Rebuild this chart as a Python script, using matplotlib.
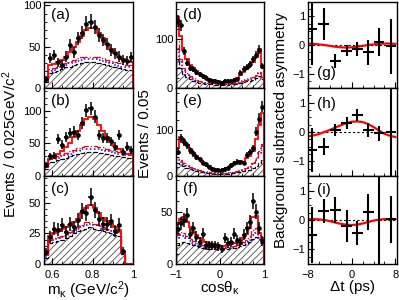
import matplotlib
matplotlib.use("Agg")
import matplotlib.pyplot as plt
import numpy as np
from matplotlib.ticker import MultipleLocator, FormatStrFormatter

plt.rcParams["font.family"] = ["Liberation Sans", "DejaVu Sans"]
plt.rcParams["mathtext.fontset"] = "custom"
plt.rcParams["mathtext.rm"] = "Liberation Sans"
plt.rcParams["mathtext.it"] = "Liberation Sans:italic"
plt.rcParams["hatch.linewidth"] = 0.6

# ---- m(K pi) column: 22 bins from 0.56 to 1.00
mass_edges = np.linspace(0.56, 1.0, 23)

a_data = [11, 36, 40, 31, 28, 38, 52, 43, 60, 67, 78, 80, 74, 64, 58, 53, 46, 42, 38, 34, 33, 37]
a_total = [10, 28, 29, 31, 34, 38, 43, 49, 56, 63, 70, 73, 72, 67, 60, 53, 47, 42, 38, 35, 33, 32]
a_sig2 = [9, 23, 24, 26, 28, 30, 32, 34, 36, 37, 38, 38, 38, 37, 36, 34, 33, 31, 30, 29, 28, 28]
a_sig1 = [8, 21, 22, 24, 26, 28, 30, 31, 33, 34, 35, 35, 35, 34, 33, 31, 30, 28, 27, 26, 25, 25]
a_bkg = [7, 18, 19, 21, 23, 25, 26, 28, 29, 30, 31, 31, 31, 30, 29, 28, 27, 25, 24, 23, 22, 22]

b_data = [17, 30, 31, 57, 48, 60, 66, 68, 63, 81, 101, 104, 91, 63, 58, 58, 53, 45, 63, 37, 45, 40]
b_total = [15, 26, 29, 33, 38, 44, 51, 60, 69, 79, 87, 90, 87, 79, 69, 60, 52, 46, 41, 37, 34, 32]
b_sig2 = [14, 27, 28, 30, 32, 35, 38, 40, 43, 45, 46, 46, 46, 45, 44, 42, 40, 39, 37, 36, 35, 35]
b_sig1 = [13, 25, 26, 28, 30, 32, 34, 37, 39, 41, 42, 42, 42, 41, 40, 38, 37, 35, 34, 33, 32, 32]
b_bkg = [11, 21, 22, 24, 26, 28, 30, 32, 34, 36, 37, 37, 37, 36, 35, 34, 32, 31, 30, 29, 28, 28]

c_data = [10, 22, 29, 28, 32, 26, 33, 30, 36, 43, 42, 55, 44, 37, 33, 33, 35, 27, 32, 11, 0, 0]
c_total = [8, 23, 25, 27, 29, 30, 32, 34, 37, 42, 46, 48, 46, 42, 38, 35, 33, 30, 28, 10, 0, 0]
c_sig2 = [7, 20, 21, 22, 23, 24, 26, 28, 30, 32, 34, 34, 33, 32, 30, 29, 28, 27, 26, 9, 0, 0]
c_sig1 = [6, 19, 20, 21, 22, 23, 25, 27, 29, 31, 32, 33, 32, 31, 29, 28, 27, 26, 25, 9, 0, 0]
c_bkg = [5, 17, 18, 19, 20, 21, 23, 25, 27, 28, 29, 30, 29, 28, 27, 26, 25, 24, 23, 8, 0, 0]

# ---- cos(theta) column: 28 bins from -1 to 1
cos_edges = np.linspace(-1.0, 1.0, 29)

d_data = [136, 128, 75, 51, 41, 38, 33, 28, 24, 21, 16, 14, 14, 13, 11, 15, 15, 15, 16, 19, 31, 38, 43, 48, 58, 68, 78, 45]
d_total = [145, 105, 78, 58, 47, 40, 34, 29, 25, 22, 19, 17, 15, 14, 13, 13, 14, 15, 17, 20, 26, 33, 39, 45, 53, 63, 80, 42]
d_sig2 = [95, 60, 40, 30, 24, 20, 17, 15, 13, 12, 11, 10, 9, 9, 9, 9, 9, 10, 10, 11, 13, 15, 17, 19, 22, 26, 32, 22]
d_sig1 = [80, 52, 36, 27, 22, 18, 15, 13, 12, 11, 10, 9, 8, 8, 8, 8, 8, 9, 9, 10, 12, 14, 16, 18, 21, 24, 30, 20]
d_bkg = [58, 40, 28, 22, 18, 15, 13, 11, 10, 9, 8, 8, 7, 7, 7, 7, 7, 8, 8, 9, 10, 12, 14, 15, 17, 20, 24, 18]

e_data = [52, 81, 73, 66, 56, 49, 41, 36, 29, 25, 20, 16, 13, 13, 13, 15, 18, 23, 28, 31, 30, 28, 45, 52, 60, 96, 124, 150]
e_total = [60, 85, 78, 68, 58, 50, 43, 37, 31, 26, 22, 18, 15, 14, 14, 15, 17, 21, 26, 30, 32, 30, 38, 44, 55, 80, 110, 135]
e_sig2 = [40, 34, 28, 24, 20, 17, 14, 12, 10, 9, 8, 7, 6, 6, 6, 6, 7, 8, 9, 10, 12, 14, 17, 21, 27, 38, 55, 70]
e_sig1 = [36, 31, 25, 21, 18, 15, 13, 11, 9, 8, 7, 6, 5, 5, 5, 5, 6, 7, 8, 9, 11, 13, 16, 19, 25, 35, 50, 65]
e_bkg = [28, 25, 21, 18, 15, 13, 11, 9, 8, 7, 6, 5, 5, 4, 4, 5, 5, 6, 7, 8, 9, 10, 12, 14, 17, 22, 28, 35]

f_data = [33, 39, 42, 47, 29, 34, 26, 21, 29, 18, 18, 18, 18, 17, 14, 25, 20, 21, 29, 23, 21, 28, 34, 40, 60, 50, 34, 22]
f_total = [38, 43, 45, 40, 35, 31, 28, 25, 23, 21, 20, 19, 18, 18, 17, 17, 18, 19, 20, 21, 23, 25, 29, 34, 45, 46, 30, 25]
f_sig2 = [28, 31, 30, 27, 24, 22, 20, 19, 18, 17, 16, 16, 15, 15, 15, 15, 16, 16, 17, 18, 19, 21, 23, 26, 32, 34, 28, 22]
f_sig1 = [25, 28, 27, 25, 22, 20, 19, 18, 17, 16, 15, 15, 15, 14, 14, 14, 15, 15, 16, 17, 18, 19, 21, 23, 28, 30, 25, 20]
f_bkg = [18, 20, 21, 20, 19, 18, 17, 16, 15, 15, 14, 14, 14, 14, 14, 14, 14, 15, 15, 16, 17, 18, 19, 21, 24, 26, 24, 20]

# ---- delta t column
g_dt = [-7.2, -5.1, -3.0, -0.9, 1.0, 3.0, 5.0, 7.2]
g_asym = [0.55, 0.73, -0.55, -0.2, -0.13, -0.26, 0.1, -0.05]
g_err = [1.25, 0.55, 0.25, 0.2, 0.25, 0.45, 0.5, 0.95]

h_dt = [-7.2, -5.1, -3.0, -0.9, 1.0, 3.0, 5.0, 7.2]
h_asym = [-0.6, -0.5, 0.07, 0.3, 0.58, 0.07, -0.05, 0.0]
h_err = [0.75, 0.3, 0.2, 0.2, 0.2, 0.25, 0.25, 1.6]

i_dt = [-7.2, -5.1, -3.0, -0.9, 1.0, 3.0, 5.0, 7.2]
i_asym = [-0.51, 0.31, 0.35, -0.2, -0.45, 0.27, 2.0, 0.03]
i_err = [0.95, 0.4, 0.45, 0.55, 0.4, 0.6, 4.0, 0.8]

dt_err = [0.9, 1.0, 1.0, 1.0, 1.0, 1.0, 1.0, 0.9]

fit_t = np.arange(-8, 9)
g_fit = [0.05, 0.04, 0.02, 0.0, -0.03, -0.06, -0.08, -0.09, -0.08, -0.06, -0.03, 0.0, 0.02, 0.04, 0.05, 0.05, 0.04]
h_fit = [-0.15, -0.12, -0.07, 0.0, 0.07, 0.15, 0.23, 0.3, 0.35, 0.36, 0.34, 0.27, 0.17, 0.05, -0.06, -0.13, -0.17]
i_fit = [0.03, 0.03, 0.02, 0.0, -0.04, -0.09, -0.13, -0.16, -0.17, -0.16, -0.12, -0.07, -0.02, 0.01, 0.03, 0.03, 0.03]


def style_axis(ax):
    ax.tick_params(which="both", direction="in", top=False, right=False, labelsize=8, pad=2)
    ax.tick_params(axis="x", which="both", pad=4)
    ax.tick_params(which="major", length=4, width=0.8)
    ax.tick_params(which="minor", length=2, width=0.6)
    for s in ax.spines.values():
        s.set_linewidth(1.0)


def hist_panel(ax, edges, data, total, sig2, sig1, bkg, ymax, label):
    data = np.array(data, dtype=float)
    centers = 0.5 * (edges[1:] + edges[:-1])
    half = 0.5 * (edges[1] - edges[0])
    ax.fill_between(edges, np.r_[bkg, bkg[-1]], step="post", facecolor="none",
                    edgecolor="0.3", hatch="/////", linewidth=0)
    ax.stairs(bkg, edges, color="k", linestyle="--", linewidth=0.9)
    ax.stairs(sig1, edges, color="blue", linestyle=":", linewidth=1.1)
    ax.stairs(sig2, edges, color="red", linestyle="-.", linewidth=0.9)
    ax.stairs(total, edges, color="red", linewidth=1.3)
    m = data > 0
    ax.errorbar(centers[m], data[m], yerr=np.sqrt(data[m]), xerr=half, fmt="o",
                ms=2.3, color="k", elinewidth=1.1, capsize=0)
    ax.set_xlim(edges[0], edges[-1])
    ax.set_ylim(0, ymax)
    ax.text(0.08, 0.85, label, transform=ax.transAxes, fontsize=11, va="center")
    style_axis(ax)


def asym_panel(ax, dt, asym, err, fit, label, ly):
    ax.axhline(0, color="k", linestyle=(0, (2, 2)), linewidth=0.8)
    ax.plot(fit_t, fit, color="red", linewidth=1.6)
    ax.errorbar(dt, asym, yerr=err, xerr=dt_err, fmt="none", color="k",
                elinewidth=1.5, capsize=0)
    ax.set_xlim(-8, 8.3)
    ax.set_ylim(-1.5, 1.5)
    ax.yaxis.set_major_locator(MultipleLocator(1))
    ax.yaxis.set_minor_locator(MultipleLocator(0.25))
    ax.xaxis.set_major_locator(MultipleLocator(8))
    ax.xaxis.set_minor_locator(MultipleLocator(2))
    ax.text(0.1, ly, label, transform=ax.transAxes, fontsize=11, va="center")
    style_axis(ax)


fig = plt.figure(figsize=(3.99, 3.0), dpi=100)

col_x = [44 / 399, 176 / 399, 308 / 399]
col_w = [89 / 399, 88 / 399, 89 / 399]
row_y = [(2, 88), (88, 176), (176, 264)]

axes = []
for r, (top, bot) in enumerate(row_y):
    row = []
    for c in range(3):
        ax = fig.add_axes([col_x[c], 1 - bot / 300, col_w[c], (bot - top) / 300])
        row.append(ax)
    axes.append(row)

hist_panel(axes[0][0], mass_edges, a_data, a_total, a_sig2, a_sig1, a_bkg, 104, "(a)")
hist_panel(axes[1][0], mass_edges, b_data, b_total, b_sig2, b_sig1, b_bkg, 135, "(b)")
hist_panel(axes[2][0], mass_edges, c_data, c_total, c_sig2, c_sig1, c_bkg, 72, "(c)")
hist_panel(axes[0][1], cos_edges, d_data, d_total, d_sig2, d_sig1, d_bkg, 175, "(d)")
hist_panel(axes[1][1], cos_edges, e_data, e_total, e_sig2, e_sig1, e_bkg, 190, "(e)")
hist_panel(axes[2][1], cos_edges, f_data, f_total, f_sig2, f_sig1, f_bkg, 84, "(f)")
asym_panel(axes[0][2], g_dt, g_asym, g_err, g_fit, "(g)", 0.17)
asym_panel(axes[1][2], h_dt, h_asym, h_err, h_fit, "(h)", 0.82)
asym_panel(axes[2][2], i_dt, i_asym, i_err, i_fit, "(i)", 0.84)

# y ticks for histogram panels
for ax, maj, mnr in [(axes[0][0], 50, 10), (axes[1][0], 50, 10), (axes[2][0], 25, 5),
                     (axes[0][1], 100, 20), (axes[1][1], 100, 20), (axes[2][1], 50, 10)]:
    ax.yaxis.set_major_locator(MultipleLocator(maj))
    ax.yaxis.set_minor_locator(MultipleLocator(mnr))

for r in range(3):
    axes[r][0].xaxis.set_major_locator(MultipleLocator(0.2))
    axes[r][0].xaxis.set_minor_locator(MultipleLocator(0.05))
    axes[r][0].xaxis.set_major_formatter(FormatStrFormatter("%g"))
    axes[r][1].xaxis.set_major_locator(MultipleLocator(1))
    axes[r][1].xaxis.set_minor_locator(MultipleLocator(0.25))
    if r < 2:
        for ax in axes[r]:
            ax.tick_params(labelbottom=False)

axes[2][0].set_xlabel(r"$\mathregular{m_{\kappa}}$ (GeV/c$^\mathregular{2}$)", fontsize=11, labelpad=0)
axes[2][1].set_xlabel(r"cos$\mathregular{\theta_{\kappa}}$", fontsize=11, labelpad=0)
axes[2][2].set_xlabel("Δt (ps)", fontsize=11, labelpad=0)

fig.text(0.025, 0.52, r"Events / 0.025GeV/c$^\mathregular{2}$", rotation=90,
         fontsize=11, ha="center", va="center")
fig.text(0.363, 0.555, "Events / 0.05", rotation=90, fontsize=11, ha="center", va="center")
fig.text(0.704, 0.565, "Background subtracted asymmetry", rotation=90,
         fontsize=11, ha="center", va="center")

fig.savefig("out.png", dpi=100)
